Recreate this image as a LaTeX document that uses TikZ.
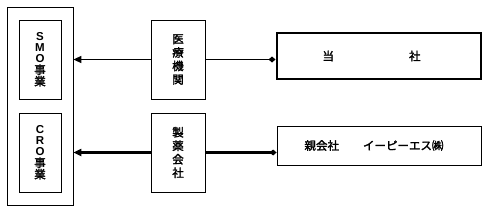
\documentclass[tikz,border=0pt]{standalone}
\usepackage{fontspec}
\setmainfont{Liberation Sans}
\newfontfamily\jpfont{Noto Sans CJK JP}[AutoFakeBold=2]
\usetikzlibrary{arrows.meta,positioning,calc}
\newcommand\latin[1]{{\rmfamily\bfseries #1}}

\begin{document}
\begin{tikzpicture}[
  x=1pt, y=-1pt,
  every node/.style={font=\jpfont\bfseries\fontsize{11.5}{12}\selectfont},
  box/.style={draw, line width=0.8pt, inner sep=0pt, align=center},
  vbox/.style={box, minimum width=42pt, minimum height=79pt},
  mid/.style={box, minimum width=54pt, minimum height=79pt},
  firm/.style={box, minimum width=204pt},
  arr/.style={-{Triangle[length=8pt,width=7pt]}, line width=1.6pt},
  link/.style={-{Diamond[length=7pt,width=6pt]}, line width=1.6pt}
]
\useasboundingbox (0,0) rectangle (487,212);

\node[box, minimum width=66pt, minimum height=198pt] (group) at (40,106) {};
\node[vbox] (smo) at (40,59.5)
  {\latin{S}\\[-1pt]\latin{M}\\[-1pt]\latin{O}\\[-0.5pt]事\\[-0.5pt]業};
\node[vbox] (cro) at (40,152.5)
  {\latin{C}\\[-1pt]\latin{R}\\[-1pt]\latin{O}\\[-0.5pt]事\\[-0.5pt]業};

\node[mid] (clinic) at (178,59.5) {医\\[1.5pt]療\\[1.5pt]機\\[1.5pt]関};
\node[mid] (pharma) at (178,152.5) {製\\[1.5pt]薬\\[1.5pt]会\\[1.5pt]社};

\node[firm, line width=2pt, minimum height=46pt] (us) at (378.5,56)
  {当\hspace{75pt}社\hspace{14pt}};
\node[firm, minimum height=39pt] (parent) at (379,145.5)
  {親会社\hspace{24pt}イーピーエス㈱\hspace{10pt}};

\draw[arr] (clinic.west) -- (clinic.west -| group.east);
\draw[arr, line width=2.2pt] (pharma.west) -- (pharma.west -| group.east);
\draw[link] (clinic.east) -- (clinic.east -| us.west);
\draw[link, line width=2.2pt] (pharma.east) -- (pharma.east -| parent.west);
\end{tikzpicture}
\end{document}
